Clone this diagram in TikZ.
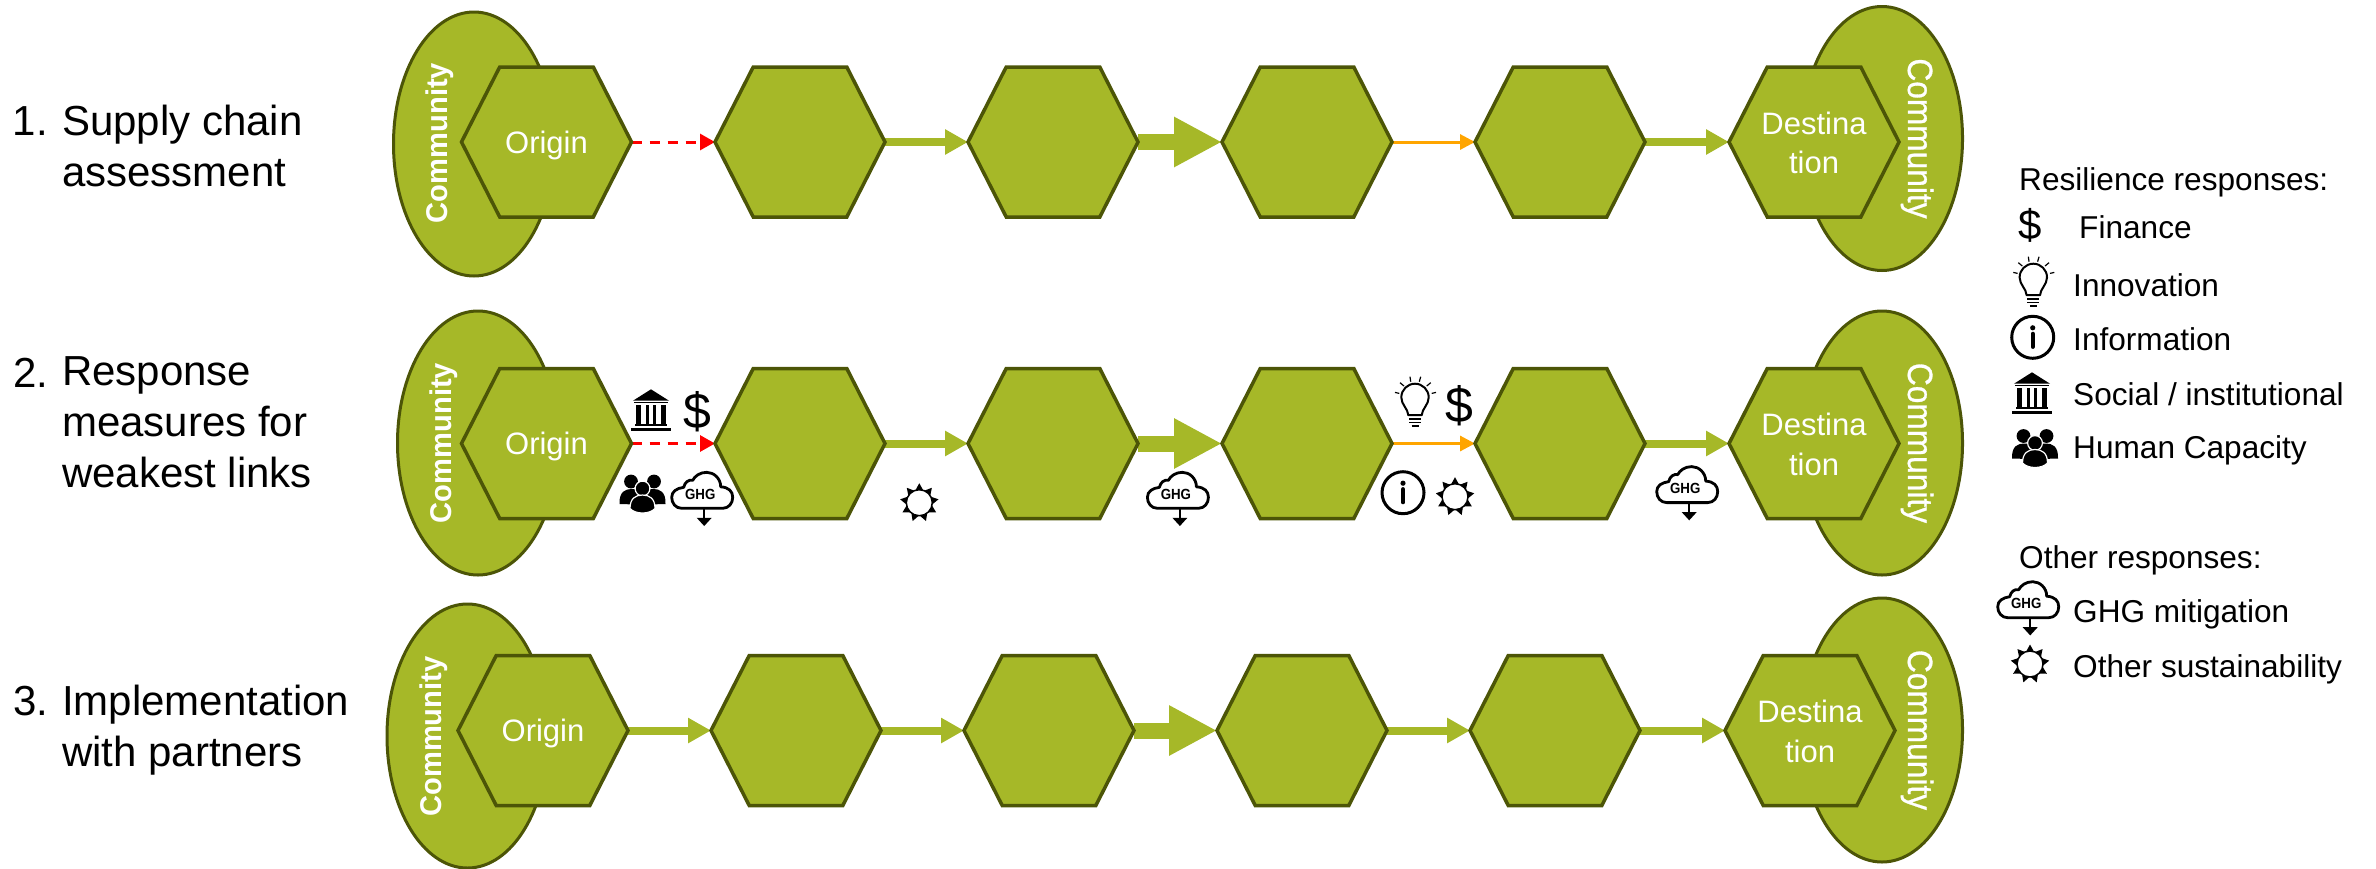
\documentclass[tikz,border=0pt]{standalone}
\usepackage{fontspec}
\setmainfont{Liberation Sans}
\newfontfamily\medfont[FakeBold=0.9]{Liberation Sans}
\usetikzlibrary{shapes.geometric,shapes.symbols,arrows.meta,backgrounds}
\definecolor{leaf}{HTML}{A6B828}
\definecolor{leafdark}{HTML}{4C5507}
\definecolor{linkred}{HTML}{FF0000}
\definecolor{linkorange}{HTML}{FFA500}
\newcommand{\fsz}[1]{\fontsize{#1}{#1}\selectfont}
\newcommand{\hexone}[1]{\smash{\makebox[0pt]{\raisebox{-11pt}{#1}}}}
\newcommand{\hextwo}[2]{\smash{\makebox[0pt]{\raisebox{8pt}{#1}}}\smash{\makebox[0pt]{\raisebox{-31.5pt}{#2}}}}
\tikzset{
  x=1pt,y=-1pt,
  hexbox/.style={shape=signal,signal to=east and west,signal from=nowhere,signal pointer angle=126,
    minimum width=170pt,minimum height=150pt,inner sep=0pt,outer sep=0pt,
    draw=leafdark,fill=leaf,line width=3.5pt,text=white,font=\fsz{31}},
  commblob/.style={shape=ellipse,minimum width=161pt,minimum height=264pt,inner sep=0pt,outer sep=0pt,
    draw=leafdark,fill=leaf,line width=3pt},
  commleft/.style={anchor=base,inner sep=0pt,rotate=90,text=white,font=\bfseries\fsz{30}},
  commright/.style={anchor=base,inner sep=0pt,rotate=-90,text=white,font=\medfont\fsz{35}},
  linkplain/.style={draw=leaf,line width=8pt,-{Triangle[length=23pt,width=24pt,fill=leaf]}},
  linkthick/.style={draw=leaf,line width=16pt,-{Triangle[length=48pt,width=47pt,fill=leaf]}},
  linkweak/.style={draw=linkred,line width=3pt,dash pattern=on 10.5pt off 7.5pt,-{Triangle[length=15pt,width=16pt,fill=linkred]}},
  linkmid/.style={draw=linkorange,line width=3pt,-{Triangle[length=15pt,width=15pt,fill=linkorange]}},
  steptext/.style={anchor=north west,inner sep=0pt,align=left,font=\fontsize{42}{51}\selectfont},
  legtext/.style={anchor=base west,inner sep=0pt,font=\fsz{31.6}},
  dollar/.style={inner sep=0pt,font=\fsz{#1}},
  bankicon/.pic={
    \begin{scope}[y=1pt]
      \fill[black] (0,20.7) -- (18,9.3) -- (-18,9.3) -- cycle;
      \fill[black] (-17,8) rectangle (17,6.6);
      \fill[black] (-15,5.5) rectangle (-10,-13.5);
      \fill[black] (-5.4,5.5) rectangle (-1.8,-13.5);
      \fill[black] (1.8,5.5) rectangle (5.4,-13.5);
      \fill[black] (10,5.5) rectangle (15,-13.5);
      \fill[black] (-16,-14) rectangle (16,-16.2);
      \fill[black] (-20,-18) rectangle (20,-20.7);
    \end{scope}},
  peopleicon/.pic={
    \begin{scope}[y=1pt]
      \fill[black] (-11.5,12) circle (6.9);
      \fill[black] (11.5,12) circle (6.9);
      \fill[black] (-23,-10.5) .. controls (-23.5,2) and (-17,4.5) .. (-11,4.5) .. controls (-8,4.5) and (-5,4) .. (-3,3) -- (-6,-11) -- cycle;
      \fill[black] (23,-10.5) .. controls (23.5,2) and (17,4.5) .. (11,4.5) .. controls (8,4.5) and (5,4) .. (3,3) -- (6,-11) -- cycle;
      \filldraw[black,draw=white,line width=1.2pt] (0,5) circle (7.4);
      \filldraw[black,draw=white,line width=1.2pt] (-12.5,-15) .. controls (-12.5,-5) and (-7,-1.5) .. (0,-1.5) .. controls (7,-1.5) and (12.5,-5) .. (12.5,-15) .. controls (7,-21) and (-7,-21) .. (-12.5,-15) -- cycle;
    \end{scope}},
  ghgicon/.pic={
    \begin{scope}[y=1pt]
      \draw[black,line width=2.8pt,line join=round] (-20,-10) -- (21,-10) .. controls (27,-10) and (31,-5) .. (31,1) .. controls (31,7) and (27,11) .. (19,11.5) .. controls (19,20) and (12,26) .. (5,26) .. controls (-2,26) and (-7,22) .. (-9,18) .. controls (-13,19) and (-17,16) .. (-18,11) .. controls (-25,10) and (-30,7) .. (-30,1) .. controls (-30,-5) and (-26,-10) .. (-20,-10) -- cycle;
      \node (-gas) at (-1.5,4) [inner sep=0pt,text=black,font=\bfseries\fsz{14}] {\scalebox{.95}[1.05]{GHG}};
      \draw[black,line width=2.2pt] (2.5,-10) -- (2.5,-20);
      \fill[black] (-5,-19.5) -- (10,-19.5) -- (2.5,-27.7) -- cycle;
    \end{scope}},
  sunicon/.pic={
    \begin{scope}[y=1pt]
      \foreach \a in {90,50,10,-30,-70,-110,-150,170,130}
        \fill[black] (\a-20:12.5) -- (\a:19.5) -- (\a+20:12.5) -- cycle;
      \filldraw[fill=white,draw=black,line width=1.5pt] (0,0) circle (13);
    \end{scope}},
  infoicon/.pic={
    \begin{scope}[y=1pt]
      \draw[black,line width=3pt,fill=white] (0,0) circle (21);
      \fill[black] (0,9.5) circle (2.6);
      \draw[black,line width=4.2pt,line cap=round] (0,3.5) -- (0,-9.5);
    \end{scope}},
  bulbicon/.pic={
    \begin{scope}[y=1pt]
      \draw[black,line width=2pt,line join=round] (-6.7,-13.5) .. controls (-7,-7) and (-13.7,-3) .. (-13.7,4.3) arc (180:0:13.7) .. controls (13.7,-3) and (7,-7) .. (6.7,-13.5) -- cycle;
      \draw[black,line width=1.8pt] (-6,-17.5) -- (6,-17.5) (-6,-20.7) -- (6,-20.7) (-3.5,-24) -- (3.5,-24);
      \draw[black,line width=1.2pt] (-5,25) -- (-4.3,20) (5.7,25) -- (4.3,20) (-15,19) -- (-11,15.7) (15.7,19) -- (11.7,15.7) (-20,9.3) -- (-15.7,8.3) (21,9.3) -- (16.7,8.3);
    \end{scope}},
}
\begin{document}
\begin{tikzpicture}
\useasboundingbox (0,0) rectangle (2376,868);
% row titles
\node (num1) [legtext,font=\fsz{42}] at (12.5,135) {1.};
\node (txt1) [steptext] at (62,104.5) {Supply chain\\assessment};
\node (num2) [legtext,font=\fsz{42}] at (13,387) {2.};
\node (txt2) [steptext] at (62,356.5) {Response\\measures for\\weakest links};
\node (num3) [legtext,font=\fsz{42}] at (13,715.5) {3.};
\node (txt3) [steptext] at (62,685) {Implementation\\with partners};
% rows
\foreach \r/\cy/\la/\lb/\lc/\ld/\le/\lf/\ex/\ey/\fy/\bl/\tl in {
  1/142/546.5/800/1053/1307/1560/1814/474/144/138.5/447/143,
  2/443.5/546.5/800/1053/1307/1560/1814/478/443/443/451/443,
  3/730.5/543/796/1049/1302/1555/1810/467.5/736/730/441/736.5}{
  \node (lc\r) [commblob] at (\ex,\ey) {};
  \node (rc\r) [commblob] at (1882,\fy) {};
  \node (lt\r) [commleft] at (\bl,\tl) {\scalebox{.97}[1]{Community}};
  \node (rt\r) [commright] at (1908,\fy) {\scalebox{.905}[1]{Community}};
  \node (r\r a) [hexbox] at (\la,\cy) {\hexone{Origin}};
  \node (r\r b) [hexbox] at (\lb,\cy) {};
  \node (r\r c) [hexbox] at (\lc,\cy) {};
  \node (r\r d) [hexbox] at (\ld,\cy) {};
  \node (r\r e) [hexbox] at (\le,\cy) {};
  \node (r\r f) [hexbox] at (\lf,\cy) {\hextwo{Destina}{tion}};
}
\begin{pgfonlayer}{background}
  \foreach \r in {1,2}{
    \draw[linkweak] (r\r a.east) -- (r\r b.west);
    \draw[linkplain] (r\r b.east) -- (r\r c.west);
    \draw[linkthick] (r\r c.east) -- (r\r d.west);
    \draw[linkmid] (r\r d.east) -- (r\r e.west);
    \draw[linkplain] (r\r e.east) -- (r\r f.west);
  }
  \draw[linkplain] (r3a.east) -- (r3b.west);
  \draw[linkplain] (r3b.east) -- (r3c.west);
  \draw[linkthick] (r3c.east) -- (r3d.west);
  \draw[linkplain] (r3d.east) -- (r3e.west);
  \draw[linkplain] (r3e.east) -- (r3f.west);
\end{pgfonlayer}
% icons on row 2
\pic (bank1) at (651,410) {bankicon};
\node (usd1) [dollar=50] at (697,412) {\$};
\pic (ppl1) at (642.5,493.5) {peopleicon};
\pic (ghg1) at (701.7,498.3) {ghgicon};
\pic (sun1) at (919.3,502.7) {sunicon};
\pic (ghg2) at (1177.4,498.3) {ghgicon};
\pic (bulb1) at (1415,401.7) {bulbicon};
\node (usd2) [dollar=50] at (1459,405.5) {\$};
\pic (info1) at (1403,492.7) {infoicon};
\pic (sun2) at (1455,496.7) {sunicon};
\pic (ghg3) at (1686.7,492.6) {ghgicon};
% legend
\node (leg1) [legtext] at (2019,190) {Resilience responses:};
\node (usd3) [dollar=42] at (2030,225) {\$};
\node (leg2) [legtext] at (2079,238) {Finance};
\pic (bulb2) at (2033.3,281.7) {bulbicon};
\node (leg3) [legtext] at (2073,296) {Innovation};
\pic (info2) at (2032.7,337.3) {infoicon};
\node (leg4) [legtext] at (2073,350) {Information};
\pic (bank2) at (2032,393) {bankicon};
\node (leg5) [legtext] at (2073,405) {Social / institutional};
\pic (ppl2) at (2035,448) {peopleicon};
\node (leg6) [legtext] at (2073,458) {Human Capacity};
\node (leg7) [legtext] at (2019,568) {Other responses:};
\pic (ghg4) at (2027.7,607.7) {ghgicon};
\node (leg8) [legtext] at (2073,622) {GHG mitigation};
\pic (sun3) at (2030,664) {sunicon};
\node (leg9) [legtext] at (2073,677) {Other sustainability};
\end{tikzpicture}
\end{document}
